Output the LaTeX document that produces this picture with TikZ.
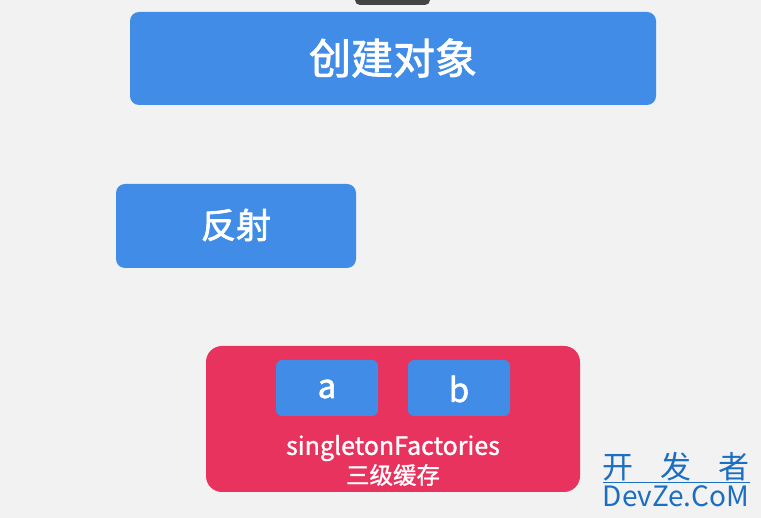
\documentclass[tikz,border=0pt]{standalone}
\usepackage{fontspec}
\setmainfont{Noto Sans CJK SC}
\newfontfamily\cjk{Noto Sans CJK SC}
\newfontfamily\cjkmed[FakeBold=1.2]{Noto Sans CJK SC}
\newfontfamily\cjkbig[FakeBold=2]{Noto Sans CJK SC}
\definecolor{bg}{HTML}{F2F2F2}
\definecolor{boxblue}{HTML}{418CE6}
\definecolor{boxred}{HTML}{E8335E}
\definecolor{topgray}{HTML}{444444}
\definecolor{wmblue}{HTML}{1B6EC2}
\begin{document}
\begin{tikzpicture}[x=1pt,y=-1pt,
  bluebox/.style={fill=boxblue, draw=none, rounded corners=9pt},
  redbox/.style={fill=boxred, draw=none, rounded corners=16pt},
  label/.style={text=white},
  wm/.style={text=wmblue, inner sep=0pt}]
\useasboundingbox (0,0) rectangle (761,518);
\fill[bg] (0,0) rectangle (761,518);
% top dark tab
\fill[topgray, rounded corners=5pt] (355,-10) rectangle (430,5);
% boxes
\fill[bluebox] (130,12) rectangle (656,105);
\node[label, font=\cjkbig\fontsize{42}{46}\selectfont] (create) at (393,58) {创建对象};
\fill[bluebox] (116,184) rectangle (356,268);
\node[label, font=\cjkbig\fontsize{35}{38}\selectfont] (reflect) at (236,225) {反射};
\fill[redbox] (206,346) rectangle (580,492);
\fill[boxblue, rounded corners=6pt] (276,360) rectangle (378,416);
\fill[boxblue, rounded corners=6pt] (408,360) rectangle (510,416);
\node[label, font=\cjkbig\fontsize{33}{36}\selectfont] (a) at (327,389) {a};
\node[label, font=\cjkbig\fontsize{33}{36}\selectfont] (b) at (459,389) {b};
\node[label, font=\cjkmed\fontsize{25}{28}\selectfont] (sf) at (393,448) {singletonFactories};
\node[label, font=\cjkmed\fontsize{23.5}{26}\selectfont] (cache) at (393,475) {三级缓存};
% watermark
\node[wm, font=\cjk\fontsize{31}{32}\selectfont] (wmcn) at (676,467) {开\hspace{27pt}发\hspace{27pt}者};
\draw[wmblue, line width=0.8pt] (603,482) -- (750,482);
\node[wm, font=\cjk\fontsize{28}{30}\selectfont] (wmen) at (676,496) {DevZe.CoM};
\end{tikzpicture}
\end{document}
